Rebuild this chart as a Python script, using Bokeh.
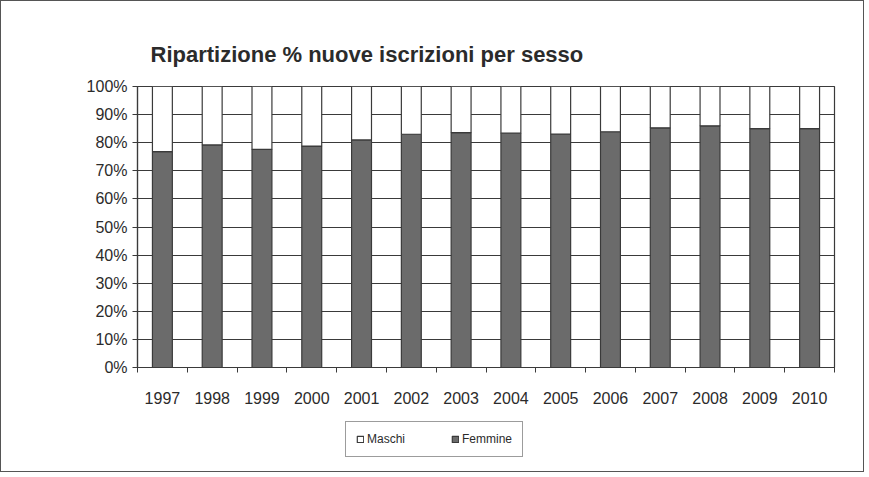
from bokeh.plotting import figure
from bokeh.layouts import column
from bokeh.models import (ColumnDataSource, FixedTicker, NumeralTickFormatter,
                          Range1d, Legend, LegendItem)
from bokeh.embed import file_html
from bokeh.resources import INLINE

years = ["1997", "1998", "1999", "2000", "2001", "2002", "2003",
         "2004", "2005", "2006", "2007", "2008", "2009", "2010"]
femmine_pct = [76.8, 79.2, 77.6, 78.8, 81.0, 83.0, 83.6,
               83.4, 83.1, 83.9, 85.3, 86.0, 85.0, 85.0]
maschi_pct = [round(100 - f, 1) for f in femmine_pct]
y_ticks = [0, 0.1, 0.2, 0.3, 0.4, 0.5, 0.6, 0.7, 0.8, 0.9, 1.0]
series_labels = ["Maschi", "Femmine"]

idx = list(range(len(years)))
src = ColumnDataSource(dict(
    x=idx,
    femmine=[f / 100 for f in femmine_pct],
    maschi=[m / 100 for m in maschi_pct],
))

FONT = "Liberation Sans"
TXT = "#2b2b2b"
LINE = "#3a3a3a"
DARK = "#6b6b6b"
WIDTH = 862

p = figure(width=WIDTH, height=412, output_backend="svg", toolbar_location=None,
           x_range=Range1d(-0.5, len(years) - 0.5), y_range=Range1d(0, 1),
           min_border_left=136, min_border_right=29,
           min_border_top=85, min_border_bottom=46)

p.title.text = "Ripartizione % nuove iscrizioni per sesso"
p.title.align = "left"
p.title.offset = 13
p.title.standoff = 39
p.title.text_font = FONT
p.title.text_font_size = "22px"
p.title.text_font_style = "bold"
p.title.text_color = TXT

p.outline_line_color = LINE
p.outline_line_width = 1.2

p.vbar_stack(["femmine", "maschi"], x="x", width=0.4, source=src,
             fill_color=[DARK, "#ffffff"], line_color=LINE, line_width=1.2)

# x axis
p.xaxis.ticker = FixedTicker(ticks=idx,
                             minor_ticks=[i - 0.5 for i in range(len(years) + 1)])
p.xaxis.major_label_overrides = {i: y for i, y in zip(idx, years)}
p.xaxis.major_tick_out = 0
p.xaxis.major_tick_in = 0
p.xaxis.minor_tick_out = 5
p.xaxis.minor_tick_in = 0
p.xaxis.major_label_standoff = 19
p.xaxis.major_label_text_font = FONT
p.xaxis.major_label_text_font_size = "16px"
p.xaxis.major_label_text_color = TXT
p.xaxis.axis_line_color = LINE
p.xaxis.axis_line_width = 1.2
p.xaxis.minor_tick_line_color = LINE

# y axis
p.yaxis.ticker = FixedTicker(ticks=y_ticks)
p.yaxis.formatter = NumeralTickFormatter(format="0%")
p.yaxis.major_tick_out = 5
p.yaxis.major_tick_in = 0
p.yaxis.minor_tick_line_color = None
p.yaxis.major_label_standoff = 5
p.yaxis.major_label_text_font = FONT
p.yaxis.major_label_text_font_size = "16px"
p.yaxis.major_label_text_color = TXT
p.yaxis.axis_line_color = LINE
p.yaxis.axis_line_width = 1.2
p.yaxis.major_tick_line_color = LINE

p.xgrid.grid_line_color = None
p.ygrid.ticker = FixedTicker(ticks=y_ticks)
p.ygrid.grid_line_color = LINE
p.ygrid.grid_line_width = 1.2

# legend strip below the chart; swatch renderers lie outside its visible range
pl = figure(width=WIDTH, height=58, output_backend="svg", toolbar_location=None,
            x_axis_type=None, y_axis_type=None,
            x_range=Range1d(0, 1), y_range=Range1d(0, 1),
            min_border=0, outline_line_color=None)
pl.grid.grid_line_color = None
r_m = pl.vbar(x=[0.5], bottom=[-30], top=[-20], width=0.01,
              fill_color="#ffffff", line_color=LINE, line_width=1.2)
r_f = pl.vbar(x=[0.5], bottom=[-30], top=[-20], width=0.01,
              fill_color=DARK, line_color=LINE, line_width=1.2)

legend = Legend(items=[LegendItem(label=series_labels[0], renderers=[r_m]),
                       LegendItem(label=series_labels[1], renderers=[r_f])],
                orientation="horizontal", location=(208, 14),
                padding=10, spacing=46, margin=0,
                glyph_width=8, glyph_height=8, label_standoff=3,
                label_height=12, label_width=20,
                label_text_font=FONT, label_text_font_size="12px",
                label_text_color=TXT,
                border_line_color=LINE, border_line_width=1.2,
                background_fill_alpha=1)
pl.add_layout(legend, "center")

layout = column(p, pl, spacing=0)
layout.styles = {"border": "1px solid #555"}

open("out.html", "w").write(file_html(layout, INLINE))
